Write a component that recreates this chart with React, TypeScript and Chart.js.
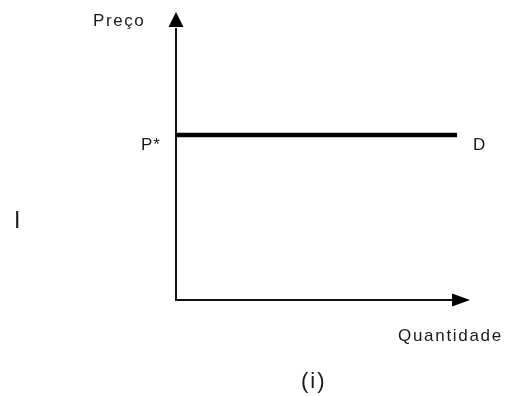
import React, { useEffect, useRef } from "react";
import { Chart, registerables } from "chart.js";

Chart.register(...registerables);

// Data (axis units 0..100)
const demandQuantity = [0, 95.6];
const demandPrice = [57.3, 57.3];
const axisMin = 0;
const axisMax = 100;
const arrowBaseX = 93.9; // where the x-axis arrowhead begins
const arrowBaseY = 94.8; // where the y-axis arrowhead begins

// Labels
const yAxisTitle = "Preço";
const xAxisTitle = "Quantidade";
const priceLabel = "P*";
const curveLabel = "D";
const panelLabel = "(i)";
const sideMark = "I";

const FONT = "'Liberation Sans', Arial, sans-serif";
const INK = "#000000";

const drawPlugin = {
  id: "econAxes",
  beforeDatasetsDraw(chart: any) {
    const { ctx, scales } = chart;
    const xs = scales.x;
    const ys = scales.y;
    const x0 = xs.getPixelForValue(axisMin);
    const y0 = ys.getPixelForValue(axisMin);
    const xEnd = xs.getPixelForValue(axisMax);
    const yEnd = ys.getPixelForValue(axisMax);
    const xArrow = xs.getPixelForValue(arrowBaseX);
    const yArrow = ys.getPixelForValue(arrowBaseY);
    ctx.save();
    ctx.strokeStyle = "#111111";
    ctx.fillStyle = INK;
    ctx.lineWidth = 2;
    ctx.lineCap = "butt";
    // vertical axis
    ctx.beginPath();
    ctx.moveTo(x0, y0 + 1);
    ctx.lineTo(x0, yArrow + 1);
    ctx.stroke();
    // horizontal axis
    ctx.beginPath();
    ctx.moveTo(x0 - 1, y0);
    ctx.lineTo(xArrow + 1, y0);
    ctx.stroke();
    // arrowheads
    ctx.beginPath();
    ctx.moveTo(x0, yEnd);
    ctx.lineTo(x0 - 7.5, yArrow);
    ctx.lineTo(x0 + 7.5, yArrow);
    ctx.closePath();
    ctx.fill();
    ctx.beginPath();
    ctx.moveTo(xEnd, y0);
    ctx.lineTo(xArrow, y0 - 6.5);
    ctx.lineTo(xArrow, y0 + 6.5);
    ctx.closePath();
    ctx.fill();
    ctx.restore();
  },
  afterDraw(chart: any) {
    const { ctx, scales } = chart;
    const xs = scales.x;
    const ys = scales.y;
    const x0 = xs.getPixelForValue(axisMin);
    const y0 = ys.getPixelForValue(axisMin);
    const yTop = ys.getPixelForValue(axisMax);
    const xRight = xs.getPixelForValue(axisMax);
    const pY = ys.getPixelForValue(demandPrice[0]);
    const dX = xs.getPixelForValue(demandQuantity[1]);
    ctx.save();
    ctx.fillStyle = "#1a1a1a";
    ctx.textBaseline = "alphabetic";
    ctx.textAlign = "left";
    ctx.font = `17px ${FONT}`;
    (ctx as any).letterSpacing = "1.6px";
    ctx.fillText(yAxisTitle, x0 - 83, yTop + 14);
    (ctx as any).letterSpacing = "1px";
    ctx.fillText(priceLabel, x0 - 35, pY + 15);
    ctx.fillText(curveLabel, dX + 16, pY + 15);
    (ctx as any).letterSpacing = "1.7px";
    ctx.fillText(xAxisTitle, xRight - 72, y0 + 41);
    ctx.font = `22px ${FONT}`;
    (ctx as any).letterSpacing = "2px";
    ctx.fillText(panelLabel, x0 + 125, y0 + 88);
    (ctx as any).letterSpacing = "0px";
    ctx.font = `23px ${FONT}`;
    ctx.fillText(sideMark, 14, y0 - 72);
    ctx.restore();
  },
};

export default function App() {
  const ref = useRef<HTMLCanvasElement | null>(null);
  useEffect(() => {
    if (!ref.current) return;
    const chart = new Chart(ref.current, {
      type: "line",
      data: {
        datasets: [
          {
            label: "D",
            data: demandQuantity.map((q, i) => ({ x: q, y: demandPrice[i] })),
            borderColor: "#000000",
            borderWidth: 4.5,
            pointRadius: 0,
            borderCapStyle: "butt",
            fill: false,
          },
        ],
      },
      options: {
        animation: false,
        responsive: false,
        layout: { padding: { left: 176, right: 38, top: 12, bottom: 96 } },
        plugins: { legend: { display: false }, tooltip: { enabled: false } },
        scales: {
          x: { type: "linear", min: axisMin, max: axisMax, display: false },
          y: { type: "linear", min: axisMin, max: axisMax, display: false },
        },
      },
      plugins: [drawPlugin],
    });
    return () => chart.destroy();
  }, []);
  return (
    <div style={{ position: "fixed", left: 0, top: 0, width: 508, height: 396, background: "#fff" }}>
      <canvas ref={ref} width={508} height={396} />
    </div>
  );
}
